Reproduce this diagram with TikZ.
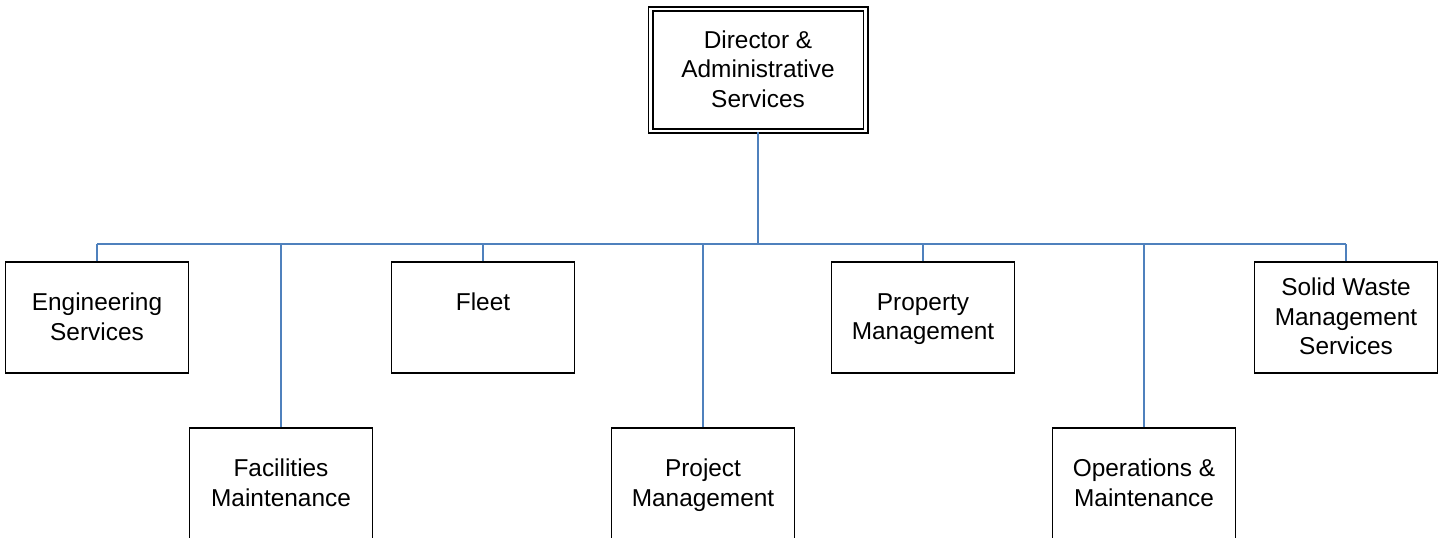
\documentclass[tikz,border=0pt]{standalone}
\usepackage{fontspec}
\setmainfont{Liberation Sans}
\usetikzlibrary{%
   positioning%
}
\definecolor{linkblue}{RGB}{79,129,189}

\begin{document}
\begin{tikzpicture}[x=0.5pt,y=-0.5pt,director/.style={
	rectangle,
	minimum width=107.5pt,
	minimum height=61pt,
	line width=0.8pt,
	draw=black,
	double=white,
	double distance=1.4pt,
	align=center,
	text depth=1pt,
	font=\fontsize{12.2}{14.7}\selectfont
	},unit/.style={
	rectangle,minimum width=91.5pt,minimum height=55.5pt,
	line width=0.75pt,draw=black,fill=white,
	align=center,text depth=1pt,
	font=\fontsize{12.2}{14.7}\selectfont
	},link/.style={
	draw=linkblue,line width=0.75pt
	}
]

\useasboundingbox (0,0) rectangle (1445,537);

% Top
\node (dir) [director] at (758,70) {Director \&\\Administrative\\Services};

% First row
\node (eng) [unit] at (97,317.5) {Engineering\\Services};
\node (fleet) [unit] at (483,317.5) {Fleet\\~};
\node (prop) [unit] at (923,317.5) {Property\\Management};
\node (swm) [unit] at (1346,317.5) {Solid Waste\\Management\\Services};

% Second row
\node (fac) [unit] at (281,483.5) {Facilities\\Maintenance};
\node (proj) [unit] at (703,483.5) {Project\\Management};
\node (ops) [unit] at (1144,483.5) {Operations \&\\Maintenance};

% Bus line
\coordinate (busL) at (97,244);
\coordinate (busR) at (1346,244);

\path[link] (busL) edge (busR)
	(dir.south) edge (dir.south |- busL)
	(eng.north) edge (eng.north |- busL)
	(fac.north) edge (fac.north |- busL)
	(fleet.north) edge (fleet.north |- busL)
	(proj.north) edge (proj.north |- busL)
	(prop.north) edge (prop.north |- busL)
	(ops.north) edge (ops.north |- busL)
	(swm.north) edge (swm.north |- busL);

\end{tikzpicture}
\end{document}
